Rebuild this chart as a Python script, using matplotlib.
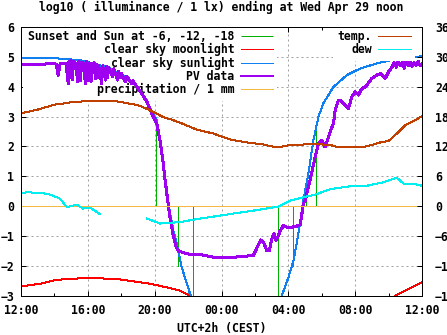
import numpy as np
import matplotlib
matplotlib.use("Agg")
import matplotlib.pyplot as plt

# time axis: hours after Tue 12:00 CEST
# clear sky sunlight, log10 lx
sun_t = [0.0, 2.14, 3.53, 4.73, 5.33, 5.93, 6.53, 7.13, 7.53, 7.83, 8.13, 8.43, 8.62,
         8.82, 9.12, 9.32, 9.62, 10.12, 10.18, np.nan,
         15.61, 16.01, 16.31, 16.6, 16.87, 17.2, 17.5, 17.8, 18.1, 18.7, 19.5, 20.3,
         21.3, 22.3, 23.3, 24.0]
sun_lx = [4.97, 4.95, 4.89, 4.72, 4.61, 4.42, 4.22, 3.88, 3.55, 3.15, 2.88, 1.87, 0.97,
          0.08, -0.82, -1.26, -2.05, -2.94, -3.0, np.nan,
          -3.0, -2.38, -1.82, -0.93, 0.1, 1.09, 2.2, 2.99, 3.45, 3.99, 4.39, 4.61,
          4.78, 4.91, 4.98, 5.02]

# clear sky moonlight, log10 lx
moon_t = [0.0, 1.14, 1.93, 2.73, 3.53, 4.73, 5.73, 6.72, 7.72, 8.72, 9.52, 10.12, np.nan,
          22.4, 23.1, 24.0]
moon_lx = [-2.69, -2.6, -2.49, -2.44, -2.42, -2.42, -2.44, -2.52, -2.6, -2.72, -2.83, -3.0, np.nan,
           -3.0, -2.8, -2.55]

# measured PV data, log10 lx
pv_t = [0.0, 0.54, 1.14, 1.74, 2.1, 2.23, 2.34, 2.69, 2.83, 2.87, 2.96, 2.99, 3.08, 3.14,
        3.23, 3.41, 3.47, 3.56, 3.62, 3.71, 3.86, 3.92, 4.04, 4.1, 4.19, 4.25, 4.37, 4.46,
        4.52, 4.58, 4.64, 4.83, 4.88, 5.06, 5.12, 5.18, 5.24, 5.48, 5.54, 5.78, 5.84, 5.93,
        5.99, 6.26, 6.32, 6.63, 6.68, 6.83, 7.13, 7.53, 7.83, 8.13, 8.32, 8.5, 8.62, 8.8,
        8.92, 9.1, 9.28, 9.4, 9.92, 10.72, 11.5, 12.5, 13.1, 13.9, 14.19, 14.35, 14.51,
        14.71, 14.87, 15.01, 15.15, 15.27, 15.41, 15.51, 15.71, 15.91, 16.11, 16.51, 16.71,
        16.81, 16.9, 17.01, 17.2, 17.41, 17.6, 17.8, 18.01, 18.2, 18.5, 18.7, 18.8, 19.0,
        19.1, 19.3, 19.6, 19.8, 20.0, 20.2, 20.4, 20.6, 21.0, 21.3, 21.5, 21.8, 22.0, 22.2,
        22.33, 22.46, 22.57, 22.69, 22.81, 22.93, 23.05, 23.17, 23.29, 23.41, 23.53, 23.65,
        23.77, 23.89, 24.0]
pv_lx = [4.74, 4.76, 4.75, 4.77, 4.76, 4.38, 4.77, 4.78, 4.1, 4.85, 4.3, 4.88, 4.25, 4.85,
         4.8, 4.16, 4.85, 4.2, 4.8, 4.82, 4.1, 4.84, 4.2, 4.8, 4.16, 4.78, 4.8, 4.28,
         4.75, 4.3, 4.72, 4.1, 4.7, 4.22, 4.68, 4.3, 4.65, 4.33, 4.6, 4.22, 4.52, 4.3,
         4.45, 4.16, 4.35, 4.1, 4.2, 4.08, 3.85, 3.5, 3.1, 2.75, 2.2, 1.5, 0.9, 0.1,
         -0.4, -0.95, -1.35, -1.49, -1.6, -1.62, -1.71, -1.71, -1.7, -1.65, -1.32, -1.13, -1.21,
         -1.49, -1.49, -1.09, -0.93, -1.15, -0.98, -0.82, -0.65, -0.7, -0.72, -0.67, -0.62,
         -0.26, 0.08, 0.19, 0.64, 1.14, 1.64, 2.09, 2.2, 1.98, 2.48, 2.77, 3.21, 3.55,
         3.55, 3.44, 3.27, 3.66, 3.83, 3.72, 3.94, 3.99, 4.28, 4.39, 4.44, 4.28, 4.5, 4.66,
         4.8, 4.65, 4.85, 4.7, 4.82, 4.62, 4.84, 4.7, 4.85, 4.68, 4.8, 4.72,
         4.85, 4.7, 4.76]

# sunset / sunrise and sun at -6, -12, -18 deg (impulse heights)
twilight_t = [8.07, 8.72, 9.42, 10.32, 15.41, 16.3, 17.03, 17.65]
twilight_h = [2.6, 0.3, -2.0, -3.0, -3.0, -2.0, 0.3, 2.6]

precip_t = [0.0, 24.0]
precip_mm = [0.0, 0.0]

# temperature and dew point, deg C (right axis)
temp_t = [0, 0.5, 1, 1.5, 2, 2.5, 3, 3.5, 4, 4.5, 5, 5.5, 6, 6.5, 7, 7.5, 8, 8.5, 9, 9.5,
          10, 10.5, 11, 11.5, 12, 12.5, 13, 13.5, 14, 14.5, 15, 15.5, 16, 16.5, 17, 17.5,
          18, 18.5, 19, 19.5, 20, 20.5, 21, 21.5, 22, 22.5, 23, 23.5, 24]
temp_c = [18.7, 19.0, 19.4, 19.9, 20.4, 20.6, 20.9, 21.0, 21.1, 21.1, 21.2, 21.2, 20.9, 20.6,
          20.3, 19.6, 18.8, 17.9, 17.4, 16.8, 16.1, 15.4, 15.0, 14.6, 14.0, 13.4, 13.1, 12.8,
          12.6, 12.4, 12.0, 11.9, 12.2, 12.3, 12.4, 12.4, 12.4, 12.3, 11.8, 11.8, 11.8, 11.9,
          12.3, 12.8, 13.1, 14.6, 16.3, 17.1, 18.1]
dew_t = [0.0, 0.34, 1.32, 1.74, 2.34, 2.74, 3.34, 3.71, 4.13, 4.73, np.nan,
         7.53, 8.32, 9.52, 10.72, 11.92, 13.1, 14.3, 15.4, 16.1, 16.9, 17.6, 18.5, 19.7,
         20.7, 21.7, 22.5, 22.9, 23.5, 24.0]
dew_c = [2.5, 2.8, 2.6, 2.3, 1.5, -0.2, 0.3, -0.5, -0.3, -1.6, np.nan,
         -2.5, -3.5, -3.2, -2.5, -1.9, -1.3, -0.7, -0.1, 1.1, 1.8, 2.3, 3.4, 4.0,
         4.1, 4.8, 5.7, 4.5, 4.5, 4.1]

tick_pos = [0, 4, 8, 12, 16, 20, 24]
tick_lab = ["12:00", "16:00", "20:00", "00:00", "04:00", "08:00", "12:00"]

FS = 8.3
plt.rcParams["font.family"] = "DejaVu Sans Mono"
plt.rcParams["font.weight"] = "bold"
plt.rcParams["font.size"] = FS
PX = 0.72  # one pixel in points at dpi 100

fig = plt.figure(figsize=(4.47, 3.35), dpi=100)
ax = fig.add_axes([21 / 447, 1 - 295.7 / 335, 401 / 447, 268.7 / 335])
ax2 = ax.twinx()

lw = dict(lw=PX, antialiased=False)
tw = ax.vlines(twilight_t, 0, twilight_h, colors="#00b000", lw=PX, antialiased=False,
               label="Sunset and Sun at -6, -12, -18")
mo, = ax.plot(moon_t, moon_lx, color="#ff0000", label="clear sky moonlight", **lw)
su, = ax.plot(sun_t, sun_lx, color="#1080f0", label="clear sky sunlight", **lw)
pv, = ax.plot(pv_t, pv_lx, color="#a000f0", lw=2 * PX, antialiased=False, label="PV data")
pr, = ax.plot(precip_t, precip_mm, color="#f5b840", label="precipitation / 1 mm", **lw)
te, = ax2.plot(temp_t, temp_c, color="#c04000", label="temp.", **lw)
de, = ax2.plot(dew_t, dew_c, color="#00eeee", label="dew", **lw)

ax.set_xlim(0, 24)
ax.set_ylim(-3, 6)
ax2.set_ylim(-18, 36)
ax.set_xticks(tick_pos)
ax.set_xticklabels(tick_lab)
ax.set_xticks([2, 6, 10, 14, 18, 22], minor=True)
ax.set_yticks(range(-3, 7))
ax2.set_yticks(range(-18, 37, 6))

ax.set_axisbelow(True)
ax.grid(True, color="#a0a0a0", lw=PX, linestyle=(0, (2, 3)))
for a in (ax, ax2):
    for s in a.spines.values():
        s.set_linewidth(PX)
ax.tick_params(which="major", direction="in", length=5 * PX, width=PX, top=True,
               labelsize=FS, pad=6)
ax.tick_params(axis="y", pad=5)
ax.tick_params(which="minor", direction="in", length=3 * PX, width=PX, top=True)
ax2.tick_params(direction="in", length=5 * PX, width=PX, labelsize=FS, pad=9.4)

ax.set_title("log10 ( illuminance / 1 lx) ending at Wed Apr 29 noon", fontsize=FS,
             fontweight="bold", pad=11.5)
ax.set_xlabel("UTC+2h (CEST)", fontsize=FS, fontweight="bold", labelpad=3.5)

leg_kw = dict(fontsize=FS, markerfirst=False, handlelength=2.8, handletextpad=0.55,
              labelspacing=0.03, borderpad=0.4, borderaxespad=0, fancybox=False,
              facecolor="white", edgecolor="none", framealpha=1)
leg1 = ax.legend(handles=[tw, mo, su, pv, pr], loc="upper left",
                 bbox_to_anchor=(0.006, 1.007), **leg_kw)
leg1.set_zorder(1)
leg2 = ax2.legend(handles=[te, de], loc="upper right",
                  bbox_to_anchor=(0.983, 1.007), **leg_kw)
leg2.set_zorder(1)

fig.savefig("out.png", dpi=100)
